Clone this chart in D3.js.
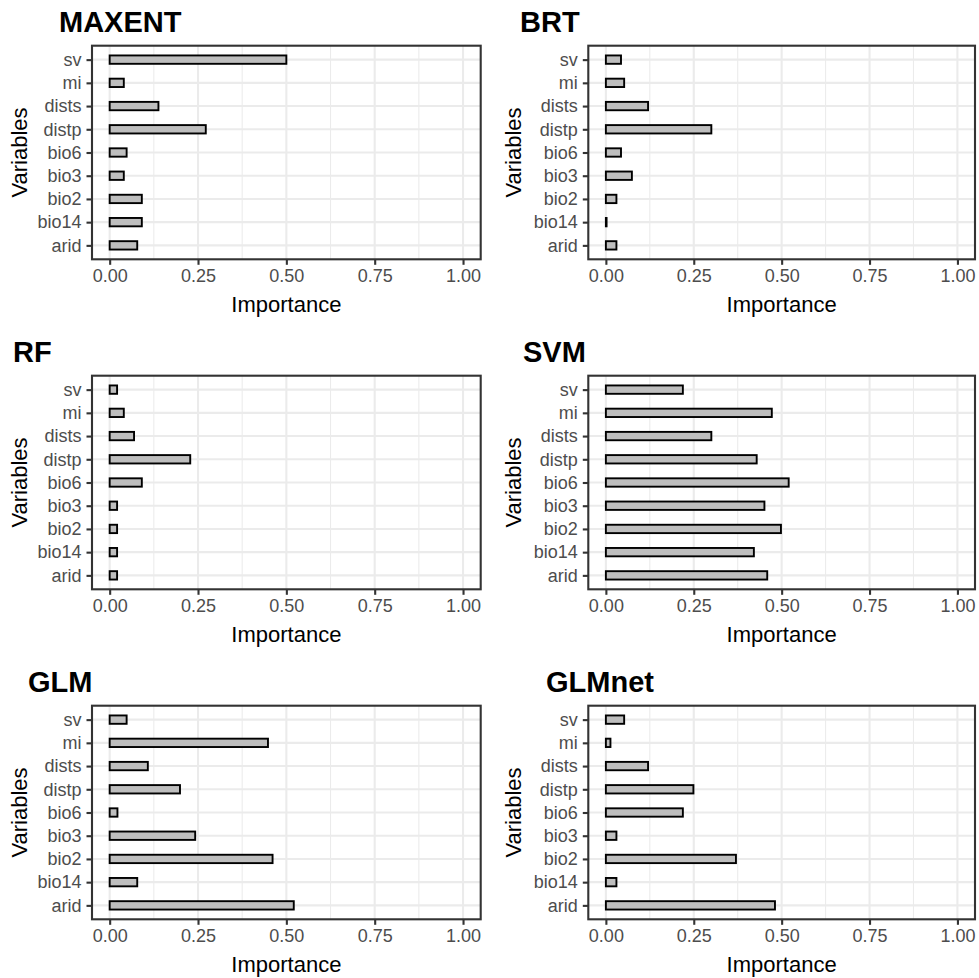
<!DOCTYPE html>
<html>
<head>
<meta charset="utf-8">
<script src="https://cdn.jsdelivr.net/npm/d3@7"></script>
<style>
  html, body { margin: 0; padding: 0; background: #fff; }
  svg { display: block; }
  text { font-family: "Liberation Sans", Arial, sans-serif; }
</style>
</head>
<body>
<svg id="chart" width="979" height="978"></svg>
<script>
// Predictor variables (top to bottom on the y axis)
const variables = ["sv", "mi", "dists", "distp", "bio6", "bio3", "bio2", "bio14", "arid"];

// Variable importance per model, in the same order as `variables`
const maxent = [0.50, 0.040, 0.138, 0.272, 0.048, 0.040, 0.091, 0.091, 0.078];
const brt    = [0.043, 0.052, 0.120, 0.300, 0.043, 0.074, 0.030, 0.002, 0.030];
const rf     = [0.021, 0.040, 0.069, 0.228, 0.091, 0.021, 0.021, 0.021, 0.021];
const svm    = [0.219, 0.472, 0.300, 0.429, 0.520, 0.451, 0.498, 0.421, 0.459];
const glm    = [0.048, 0.448, 0.108, 0.199, 0.022, 0.242, 0.461, 0.078, 0.521];
const glmnet = [0.052, 0.013, 0.120, 0.249, 0.219, 0.030, 0.370, 0.030, 0.481];

const models = ["MAXENT", "BRT", "RF", "SVM", "GLM", "GLMnet"];
const modelValues = [maxent, brt, rf, svm, glm, glmnet];

// x axis
const xTicks = [0, 0.25, 0.5, 0.75, 1];
const xMinor = [0.125, 0.375, 0.625, 0.875];
const xTickLabels = ["0.00", "0.25", "0.50", "0.75", "1.00"];

// Page layout: two columns, three rows
const columns = [
  { plotLeft: 92, plotRight: 480.7, yTitleX: 26.5 },
  { plotLeft: 588.3, plotRight: 975, yTitleX: 521 }
];
const rowTops = [0, 330, 660];
const titleLefts = [59, 520, 13, 523, 28, 546];
const plotTop = 45.7, plotBottom = 259.3;

const svg = d3.select("#chart");

models.forEach((name, i) => {
  const col = columns[i % 2];
  const top = rowTops[Math.floor(i / 2)];
  const data = variables.map((v, k) => ({ variable: v, value: modelValues[i][k] }));

  const g = svg.append("g").attr("transform", `translate(0,${top})`);

  const x = d3.scaleLinear().domain([-0.05, 1.05]).range([col.plotLeft, col.plotRight]);
  const y = d3.scalePoint().domain(variables).range([plotTop, plotBottom]).padding(0.6);
  const barH = y.step() * 0.36;

  // panel background
  g.append("rect")
    .attr("x", col.plotLeft).attr("y", plotTop)
    .attr("width", col.plotRight - col.plotLeft).attr("height", plotBottom - plotTop)
    .attr("fill", "#fff");

  // minor grid
  g.selectAll(".minor").data(xMinor).join("line")
    .attr("x1", d => x(d)).attr("x2", d => x(d))
    .attr("y1", plotTop).attr("y2", plotBottom)
    .attr("stroke", "#EBEBEB").attr("stroke-width", 1.07);

  // major grid
  g.selectAll(".majorx").data(xTicks).join("line")
    .attr("x1", d => x(d)).attr("x2", d => x(d))
    .attr("y1", plotTop).attr("y2", plotBottom)
    .attr("stroke", "#EBEBEB").attr("stroke-width", 2.1);
  g.selectAll(".majory").data(variables).join("line")
    .attr("x1", col.plotLeft).attr("x2", col.plotRight)
    .attr("y1", d => y(d)).attr("y2", d => y(d))
    .attr("stroke", "#EBEBEB").attr("stroke-width", 2.1);

  // bars
  g.selectAll(".bar").data(data).join("rect")
    .attr("x", x(0))
    .attr("y", d => y(d.variable) - barH / 2)
    .attr("width", d => x(d.value) - x(0))
    .attr("height", barH)
    .attr("fill", "#BEBEBE")
    .attr("stroke", "#000")
    .attr("stroke-width", 1.9);

  // panel border
  g.append("rect")
    .attr("x", col.plotLeft).attr("y", plotTop)
    .attr("width", col.plotRight - col.plotLeft).attr("height", plotBottom - plotTop)
    .attr("fill", "none").attr("stroke", "#333333").attr("stroke-width", 2.1);

  // x axis
  const xAxis = d3.axisBottom(x).tickValues(xTicks)
    .tickFormat((d, k) => xTickLabels[k]).tickSize(5.5).tickPadding(4.5);
  const gx = g.append("g").attr("transform", `translate(0,${plotBottom})`).call(xAxis);
  gx.select(".domain").remove();
  gx.selectAll(".tick line").attr("stroke", "#333333").attr("stroke-width", 2.1);
  gx.selectAll(".tick text")
    .attr("fill", "#4D4D4D").attr("font-size", 18)
    .attr("font-family", "'Liberation Sans', Arial, sans-serif");

  // y axis
  const yAxis = d3.axisLeft(y).tickSize(5.5).tickPadding(5);
  const gy = g.append("g").attr("transform", `translate(${col.plotLeft},0)`).call(yAxis);
  gy.select(".domain").remove();
  gy.selectAll(".tick line").attr("stroke", "#333333").attr("stroke-width", 2.1);
  gy.selectAll(".tick text")
    .attr("fill", "#4D4D4D").attr("font-size", 18)
    .attr("font-family", "'Liberation Sans', Arial, sans-serif");

  // axis titles
  g.append("text")
    .attr("x", (x(0) + x(1)) / 2).attr("y", 312)
    .attr("text-anchor", "middle").attr("font-size", 22).attr("fill", "#000")
    .text("Importance");
  g.append("text")
    .attr("transform", `translate(${col.yTitleX},${(plotTop + plotBottom) / 2}) rotate(-90)`)
    .attr("text-anchor", "middle").attr("font-size", 22).attr("fill", "#000")
    .text("Variables");

  // model title
  g.append("text")
    .attr("x", titleLefts[i]).attr("y", 32.3)
    .attr("font-size", 29).attr("font-weight", "bold").attr("fill", "#000")
    .text(name);
});
</script>
</body>
</html>
